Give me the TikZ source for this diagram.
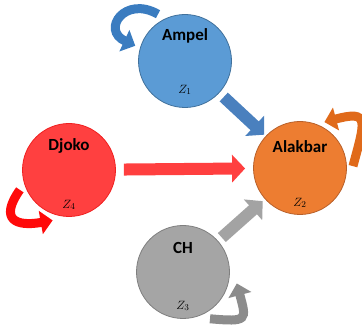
\documentclass[tikz,border=0pt]{standalone}
\usepackage{fontspec}
\newfontfamily\namefont{Carlito}
\usetikzlibrary{arrows.meta}

\definecolor{ampelfill}{HTML}{5B9BD5}
\definecolor{ampeldraw}{HTML}{41719C}
\definecolor{ampelarrow}{HTML}{4A80BE}
\definecolor{ampelloop}{HTML}{3A7CC0}
\definecolor{djokofill}{HTML}{FF4040}
\definecolor{djokodraw}{HTML}{F02020}
\definecolor{djokoarrow}{HTML}{FF3F3F}
\definecolor{djokoloop}{HTML}{FF0A0A}
\definecolor{alakbarfill}{HTML}{ED7D31}
\definecolor{alakbardraw}{HTML}{B8602A}
\definecolor{alakbarloop}{HTML}{E06A1A}
\definecolor{chfill}{HTML}{A5A5A5}
\definecolor{chdraw}{HTML}{7F7F7F}
\definecolor{charrow}{HTML}{A3A3A3}
\definecolor{chloop}{HTML}{8C8C8C}

\begin{document}
\begin{tikzpicture}[x=1pt, y=1pt]

% Styles
\tikzstyle{player}    = [draw, circle, minimum size=93pt, line width=0.8pt]
\tikzstyle{playername}= [font=\namefont\bfseries\fontsize{17}{20}\selectfont]
\tikzstyle{zonelabel} = [font=\fontsize{12.5}{14}\selectfont]
\tikzstyle{push}      = [line width=12pt, -{Triangle[length=13pt, width=27pt]}]
\tikzstyle{selfloop}  = [line width=9pt, -{Triangle[length=12pt, width=23pt]}]

\useasboundingbox (0,0) rectangle (362,327);

% Nodes
\node [player, fill=ampelfill, draw=ampeldraw] (ampel) at (185,266) {};
\node [player, fill=djokofill, draw=djokodraw] (djoko) at (69,157) {};
\node [player, fill=alakbarfill, draw=alakbardraw] (alakbar) at (300,159) {};
\node [player, fill=chfill, draw=chdraw] (ch) at (183,55) {};

% Labels
\node [playername, above of=ampel, node distance=25pt] (ampelname) {Ampel};
\node [zonelabel, below of=ampel, node distance=29pt] (ampelz) {$Z_1$};
\node [playername, above of=djoko, node distance=24pt] (djokoname) {Djoko};
\node [zonelabel, below of=djoko, node distance=35pt] (djokoz) {$Z_4$};
\node [playername, above of=alakbar, node distance=21pt] (alakbarname) {Alakbar};
\node [zonelabel, below of=alakbar, node distance=35pt] (alakbarz) {$Z_2$};
\node [playername, above of=ch, node distance=24pt] (chname) {CH};
\node [zonelabel, below of=ch, node distance=34pt] (chz) {$Z_3$};

% Connections
\draw [push, ampelarrow, shorten <=6pt, shorten >=2pt] (ampel) -- (alakbar);
\draw [push, djokoarrow, shorten <=8pt, shorten >=8pt] (djoko) -- (alakbar);
\draw [push, charrow, shorten <=5pt, shorten >=3pt] (ch) -- (alakbar);

% Self loops
\draw [selfloop, ampelloop] ([shift={(120:54pt)}]ampel.center)
  to[out=150, in=155, looseness=2.5] ([shift={(163:52pt)}]ampel.center);
\draw [selfloop, djokoloop] ([shift={(202:53pt)}]djoko.center)
  to[out=235, in=190, looseness=2.1] ([shift={(252:53pt)}]djoko.center);
\draw [selfloop, alakbarloop] ([shift={(2:53pt)}]alakbar.center)
  to[out=75, in=15, looseness=2.3] ([shift={(62:52pt)}]alakbar.center);
\draw [selfloop, chloop] ([shift={(-60:54pt)}]ch.center)
  to[out=-5, in=-75, looseness=2.2] ([shift={(-12:55pt)}]ch.center);

\end{tikzpicture}
\end{document}
